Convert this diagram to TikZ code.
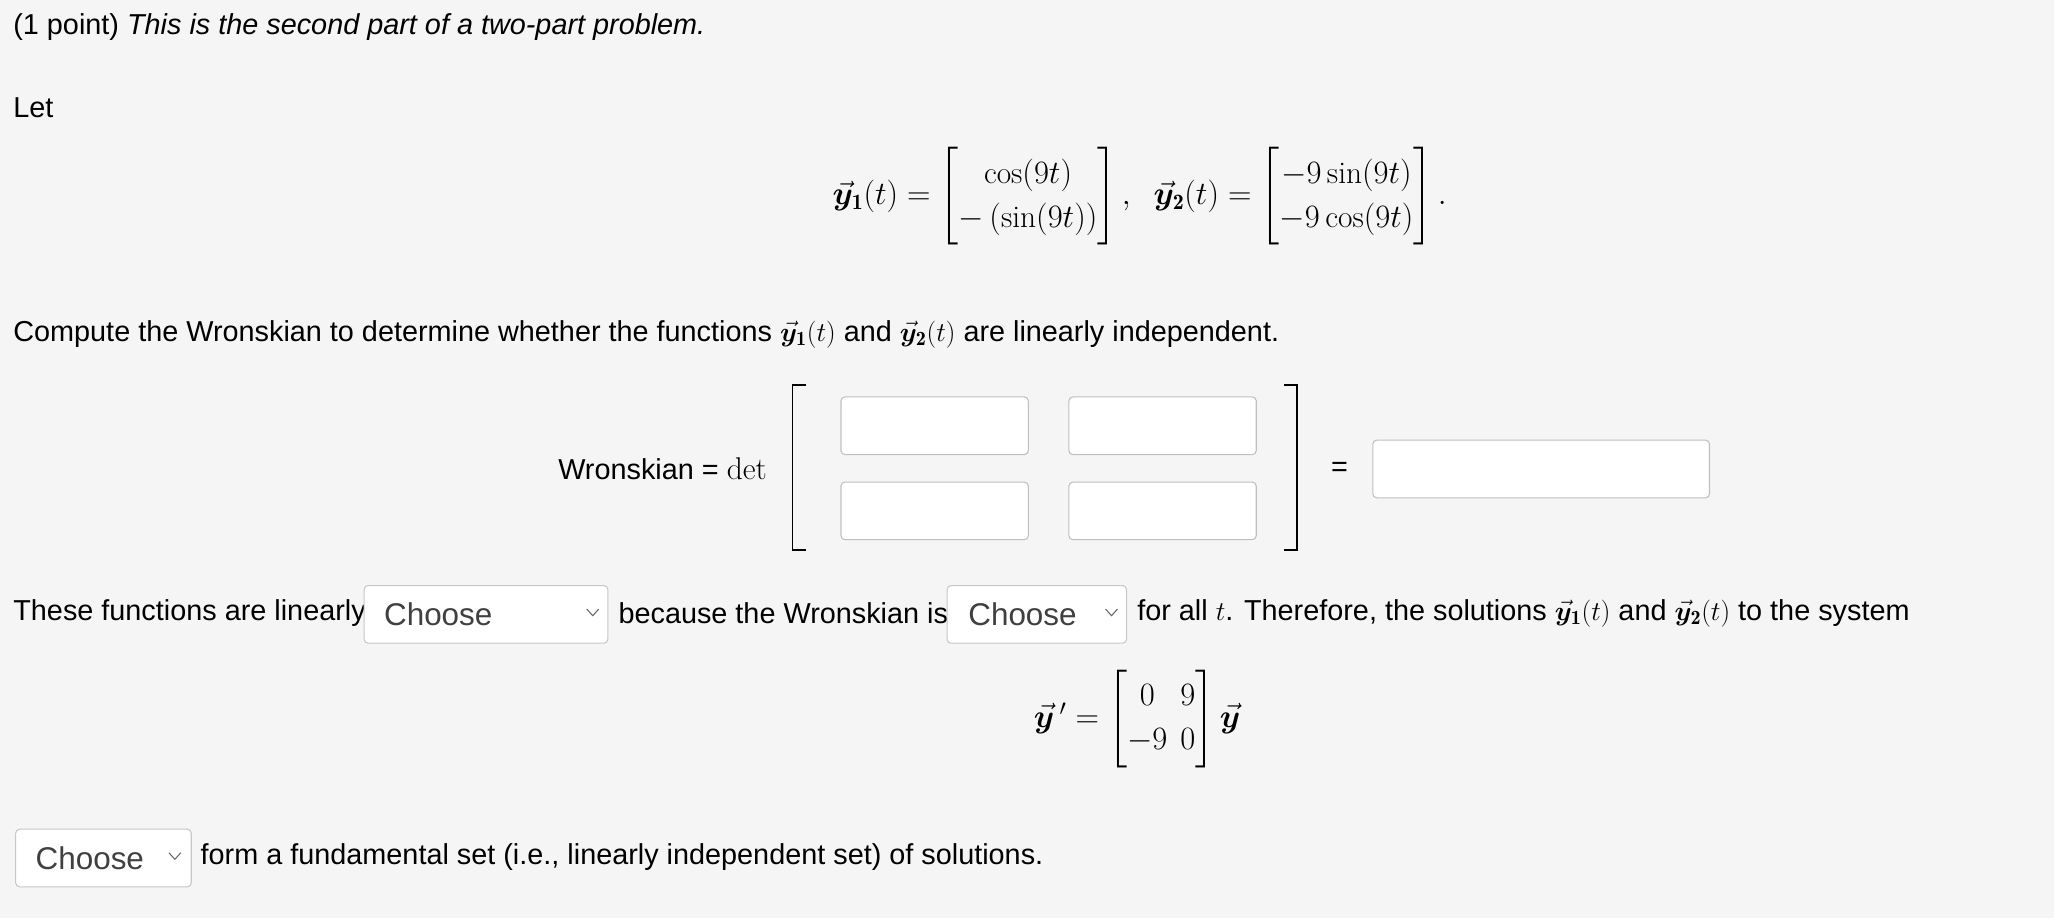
\documentclass[tikz,border=0pt]{standalone}
\usepackage{amsmath,bm}
\usepackage{fontspec}
\setsansfont{Liberation Sans}
\renewcommand{\familydefault}{\sfdefault}
\newcommand{\vy}{\vec{\bm y}}
\begin{document}
\begin{tikzpicture}[x=1pt,y=-1pt,
  txt/.style={anchor=west,inner sep=0,font=\fontsize{22}{24}\selectfont},
  inbox/.style={draw=black!25,fill=white,rounded corners=3pt,line width=0.8pt},
  ddbox/.style={draw=black!22,fill=white,rounded corners=3pt,line width=0.8pt},
  brk/.style={line width=1.2pt}]
\fill[black!4] (0,0) rectangle (1568,701);
\useasboundingbox (0,0) rectangle (1568,701);
\renewcommand{\arraystretch}{1.2}
\node[txt] (t1) at (10,21) {(1 point) \textit{This is the second part of a two-part problem.}};
\node[txt] (t2) at (10,82) {Let};
\node[anchor=center,inner sep=0,font=\fontsize{24}{28}\selectfont] (eq1) at (870,150)
 {$\vy_{\mathbf 1}(t) = \begin{bmatrix} \cos(9t)\\ -\,(\sin(9t))\end{bmatrix},\ \ \vy_{\mathbf 2}(t) = \begin{bmatrix} -9\sin(9t)\\ -9\cos(9t)\end{bmatrix}.$};
\node[txt] (t3) at (10,255) {Compute the Wronskian to determine whether the functions $\vy_{\mathbf 1}(t)$ and $\vy_{\mathbf 2}(t)$ are linearly independent.};
\node[txt] (w) at (426,358) {Wronskian = \fontsize{24}{28}\selectfont$\det$};
\draw[brk] (615,294) -- (605,294) -- (605,420) -- (615,420);
\draw[brk] (980,294) -- (990,294) -- (990,420) -- (980,420);
\draw[inbox] (642,303) rectangle (785,347);
\draw[inbox] (816,303) rectangle (959,347);
\draw[inbox] (642,368) rectangle (785,412);
\draw[inbox] (816,368) rectangle (959,412);
\node[txt] (eqs) at (1016,358) {=};
\draw[inbox] (1048,336) rectangle (1305,380);
\node[txt] (t4) at (10,468) {These functions are linearly};
\draw[ddbox] (278,447) rectangle (464,491);
\node[txt,font=\fontsize{24}{28}\selectfont,text=black!75] (c1) at (293,469) {Choose};
\draw[black!60,line width=0.8pt] (448,465) -- (452.5,470) -- (457,465);
\node[txt] (t5) at (472,468) {because the Wronskian is};
\draw[ddbox] (723,447) rectangle (860,491);
\node[txt,font=\fontsize{24}{28}\selectfont,text=black!75] (c2) at (739,469) {Choose};
\draw[black!60,line width=0.8pt] (844,465) -- (848.5,470) -- (853,465);
\node[txt] (t6) at (868,468) {for all $t$. Therefore, the solutions $\vy_{\mathbf 1}(t)$ and $\vy_{\mathbf 2}(t)$ to the system};
\node[anchor=center,inner sep=0,font=\fontsize{24}{28}\selectfont] (eq2) at (868,549)
 {$\vy\,' = \begin{bmatrix} 0 & 9\\ -9 & 0\end{bmatrix}\vy$};
\draw[ddbox] (12,633) rectangle (146,677);
\node[txt,font=\fontsize{24}{28}\selectfont,text=black!75] (c3) at (27,655) {Choose};
\draw[black!60,line width=0.8pt] (129,651) -- (133.5,656) -- (138,651);
\node[txt] (t7) at (153,654) {form a fundamental set (i.e., linearly independent set) of solutions.};
\end{tikzpicture}
\end{document}
